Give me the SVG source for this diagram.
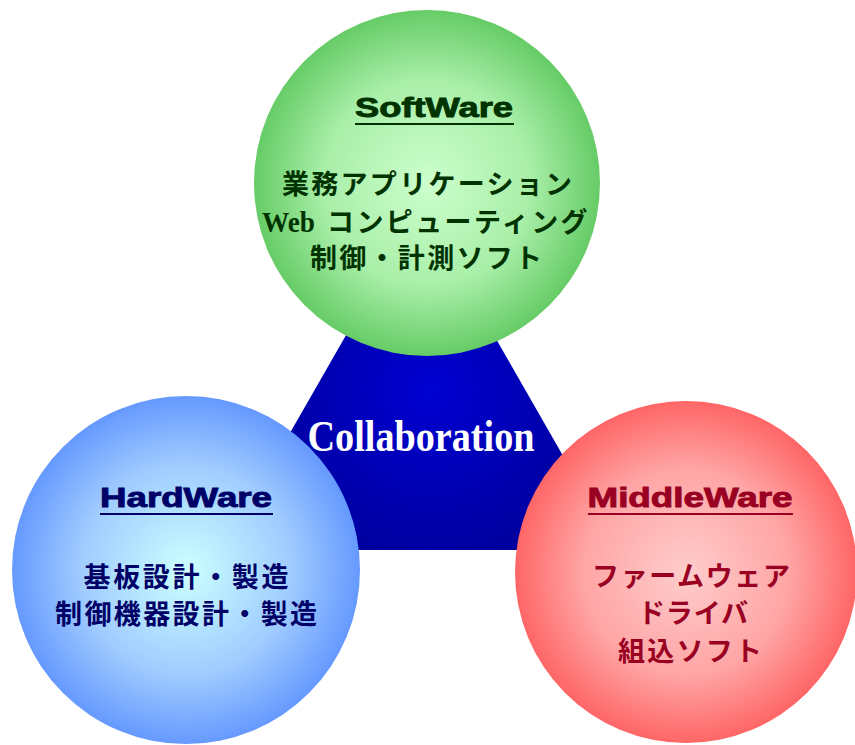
<svg xmlns="http://www.w3.org/2000/svg" width="855" height="745" viewBox="0 0 855 745">
<defs>
<radialGradient id="gTri" gradientUnits="userSpaceOnUse" cx="430" cy="390" r="190">
<stop offset="0" stop-color="#0000D2"/><stop offset="1" stop-color="#00009A"/>
</radialGradient>
<radialGradient id="gGreen" cx="0.5" cy="0.5" r="0.5">
<stop offset="0" stop-color="#CCFFCC"/><stop offset="0.6" stop-color="#A8EEA8"/><stop offset="1" stop-color="#66CC66"/>
</radialGradient>
<radialGradient id="gBlue" cx="0.5" cy="0.5" r="0.5">
<stop offset="0" stop-color="#CCFFFF"/><stop offset="0.6" stop-color="#A0CCFF"/><stop offset="1" stop-color="#6699FF"/>
</radialGradient>
<radialGradient id="gRed" cx="0.5" cy="0.5" r="0.5">
<stop offset="0" stop-color="#FFCCCC"/><stop offset="0.6" stop-color="#FFA5A5"/><stop offset="1" stop-color="#FF6666"/>
</radialGradient>
</defs>
<style>
.title{font-family:"Liberation Sans",Arial,sans-serif;font-weight:bold;font-size:27px;stroke-width:0.9px;}
.jp{font-family:"Noto Sans CJK JP","Noto Sans CJK SC",sans-serif;font-weight:bold;font-size:27px;}
.ser{font-family:"Liberation Serif","Noto Sans CJK JP",serif;font-weight:bold;font-size:30px;}
.ul{stroke-width:2.2;}
</style>
<g id="collaboration">
<polygon points="420,206 617,550 223,550" fill="url(#gTri)"/>
<text x="421" y="451" text-anchor="middle" fill="#FFFFFF" font-family="Liberation Serif,serif" font-weight="bold" font-size="44" textLength="227" lengthAdjust="spacingAndGlyphs">Collaboration</text>
</g>
<g id="software">
<circle cx="427" cy="183" r="173" fill="url(#gGreen)"/>
<text class="title" x="434" y="117" text-anchor="middle" fill="#003300" stroke="#003300" textLength="158" lengthAdjust="spacingAndGlyphs">SoftWare</text>
<line class="ul" x1="355" y1="124" x2="514" y2="124" stroke="#003300"/>
<text class="jp" x="427" y="194" text-anchor="middle" fill="#003300" textLength="290" lengthAdjust="spacing">業務アプリケーション</text>
<text class="jp" y="232" fill="#003300"><tspan class="ser" x="262" textLength="53" lengthAdjust="spacingAndGlyphs">Web</tspan><tspan x="327" letter-spacing="2.4">コンピューティング</tspan></text>
<text class="jp" x="426" y="268" text-anchor="middle" fill="#003300" textLength="232" lengthAdjust="spacing">制御・計測ソフト</text>
</g>
<g id="hardware">
<circle cx="186" cy="570" r="174" fill="url(#gBlue)"/>
<text class="title" x="186" y="507" text-anchor="middle" fill="#000066" stroke="#000066" textLength="172" lengthAdjust="spacingAndGlyphs">HardWare</text>
<line class="ul" x1="100" y1="514" x2="273" y2="514" stroke="#000066"/>
<text class="jp" x="186" y="587" text-anchor="middle" fill="#000066" textLength="205" lengthAdjust="spacing">基板設計・製造</text>
<text class="jp" x="186" y="624" text-anchor="middle" fill="#000066" textLength="262" lengthAdjust="spacing">制御機器設計・製造</text>
</g>
<g id="middleware">
<circle cx="686" cy="572" r="171" fill="url(#gRed)"/>
<text class="title" x="690" y="507" text-anchor="middle" fill="#990022" stroke="#990022" textLength="205" lengthAdjust="spacingAndGlyphs">MiddleWare</text>
<line class="ul" x1="588" y1="514" x2="793" y2="514" stroke="#990022"/>
<text class="jp" x="691" y="586" text-anchor="middle" fill="#990022" textLength="198" lengthAdjust="spacing">ファームウェア</text>
<text class="jp" x="693" y="623" text-anchor="middle" fill="#990022" textLength="110" lengthAdjust="spacing">ドライバ</text>
<text class="jp" x="690" y="661" text-anchor="middle" fill="#990022" textLength="144" lengthAdjust="spacing">組込ソフト</text>
</g>
</svg>
